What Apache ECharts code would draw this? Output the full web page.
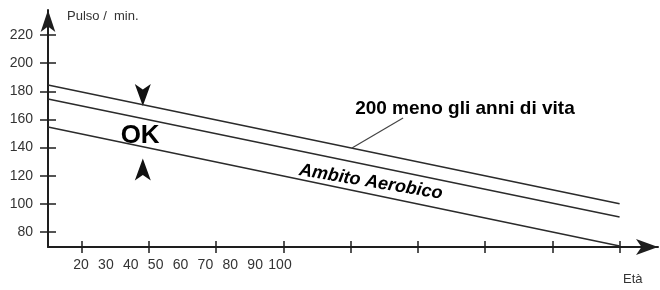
<!DOCTYPE html>
<html><head><meta charset="utf-8">
<script src="https://cdn.jsdelivr.net/npm/echarts@6/dist/echarts.min.js"></script>
<style>html,body{margin:0;padding:0;background:#fff}#c{width:660px;height:290px}</style>
</head><body><div id="c"></div>
<script>
// ---- data ----
const yTicks = [80, 100, 120, 140, 160, 180, 200, 220];
const xTicks = [1, 2, 3, 4, 5, 6, 7, 8, 9];
const ageLabels = [20, 30, 40, 50, 60, 70, 80, 90, 100];
const lineX = [0.5, 9];
const maxHR = [184.5, 100];      // 200 meno gli anni di vita
const upperAer = [174.5, 90.6];  // limite superiore ambito aerobico
const lowerAer = [154.6, 70];    // limite inferiore ambito aerobico
const arrowDown = [1.91, 169.5];
const arrowUp = [1.91, 132.2];
const okPos = [1.87, 148.2];
const maxLabelPos = [6.70, 167.4];
const leader = [[5.02, 139.7], [5.78, 161.0]];
const aerLabelPos = [5.30, 115.5];
const texts = { ok: 'OK', max: '200 meno gli anni di vita', aer: 'Ambito Aerobico', yName: 'Pulso /  min.', xName: 'Età' };

const FONT = 'Liberation Sans, Arial, sans-serif';
const AX = '#1e1e1e';
const gridBox = { left: 48, right: 2, top: 10, bottom: 43 };
const xMin = 0.5, xMax = 9.571, yMin = 69.3, yMax = 237.8;

const chart = echarts.init(document.getElementById('c'), null, { renderer: 'canvas' });
const lineStyleMain = { color: '#2b2b2b', width: 1.5 };
const mk = arr => lineX.map((x, i) => [x, arr[i]]);

chart.setOption({
  animation: false,
  backgroundColor: '#fff',
  grid: [Object.assign({}, gridBox), Object.assign({}, gridBox), Object.assign({}, gridBox)],
  xAxis: [
    { type: 'value', gridIndex: 0, min: xMin, max: xMax,
      axisLine: { onZero: false, lineStyle: { color: AX, width: 2 }, symbol: ['none', 'arrow'], symbolSize: [12, 22] },
      axisTick: { customValues: xTicks, length: 6, lineStyle: { color: AX, width: 1.5 } },
      axisLabel: { show: false }, splitLine: { show: false } },
    { type: 'value', gridIndex: 1, min: xMin, max: xMax,
      axisLine: { show: false },
      axisTick: { customValues: xTicks, inside: true, length: 6, lineStyle: { color: AX, width: 1.5 } },
      axisLabel: { show: false }, splitLine: { show: false } },
    { type: 'value', gridIndex: 2, min: 6.73, max: 251.96,
      axisLine: { show: false }, axisTick: { show: false },
      axisLabel: { customValues: ageLabels, margin: 11, fontSize: 14, color: '#333', fontFamily: FONT },
      splitLine: { show: false } }
  ],
  yAxis: [
    { type: 'value', gridIndex: 0, min: yMin, max: yMax,
      axisLine: { show: true, onZero: false, lineStyle: { color: AX, width: 2 }, symbol: ['none', 'arrow'], symbolSize: [11, 22] },
      axisTick: { show: true, customValues: yTicks, length: 8, lineStyle: { color: AX, width: 1.5 } },
      axisLabel: { customValues: yTicks, margin: 15, fontSize: 14, color: '#333', fontFamily: FONT },
      splitLine: { show: false } },
    { type: 'value', gridIndex: 1, min: yMin, max: yMax,
      axisLine: { show: false },
      axisTick: { show: true, customValues: yTicks, inside: true, length: 8, lineStyle: { color: AX, width: 1.5 } },
      axisLabel: { show: false }, splitLine: { show: false } },
    { type: 'value', gridIndex: 2, show: false, min: yMin, max: yMax }
  ],
  graphic: [
    { type: 'text', left: 67, top: 10, style: { text: texts.yName, font: '13px ' + FONT, fill: '#333' } },
    { type: 'text', left: 623, top: 273, style: { text: texts.xName, font: '13px ' + FONT, fill: '#333' } }
  ],
  series: [
    { type: 'line', xAxisIndex: 0, yAxisIndex: 0, data: mk(maxHR), symbol: 'none', silent: true, lineStyle: lineStyleMain },
    { type: 'line', xAxisIndex: 0, yAxisIndex: 0, data: mk(upperAer), symbol: 'none', silent: true, lineStyle: lineStyleMain },
    { type: 'line', xAxisIndex: 0, yAxisIndex: 0, data: mk(lowerAer), symbol: 'none', silent: true, lineStyle: lineStyleMain },
    { type: 'line', xAxisIndex: 0, yAxisIndex: 0, data: leader, symbol: 'none', silent: true, lineStyle: { color: '#444', width: 1.2 } },
    { type: 'scatter', xAxisIndex: 0, yAxisIndex: 0, symbol: 'arrow', symbolSize: [12, 22], silent: true,
      itemStyle: { color: '#111', opacity: 1 },
      data: [{ value: arrowDown, symbolRotate: 180 }, { value: arrowUp, symbolRotate: 0 }] },
    { type: 'scatter', xAxisIndex: 0, yAxisIndex: 0, symbolSize: 1, silent: true,
      itemStyle: { color: 'rgba(0,0,0,0)' },
      label: { show: true, position: 'inside', color: '#000', opacity: 1, textBorderWidth: 0, fontFamily: FONT, fontWeight: 'bold' },
      data: [
        { value: okPos, label: { formatter: texts.ok, fontSize: 26 } },
        { value: maxLabelPos, label: { formatter: texts.max, fontSize: 19 } },
        { value: aerLabelPos, label: { formatter: texts.aer, fontSize: 18, fontStyle: 'italic', rotate: -9.5 } }
      ] }
  ]
});
</script></body></html>
